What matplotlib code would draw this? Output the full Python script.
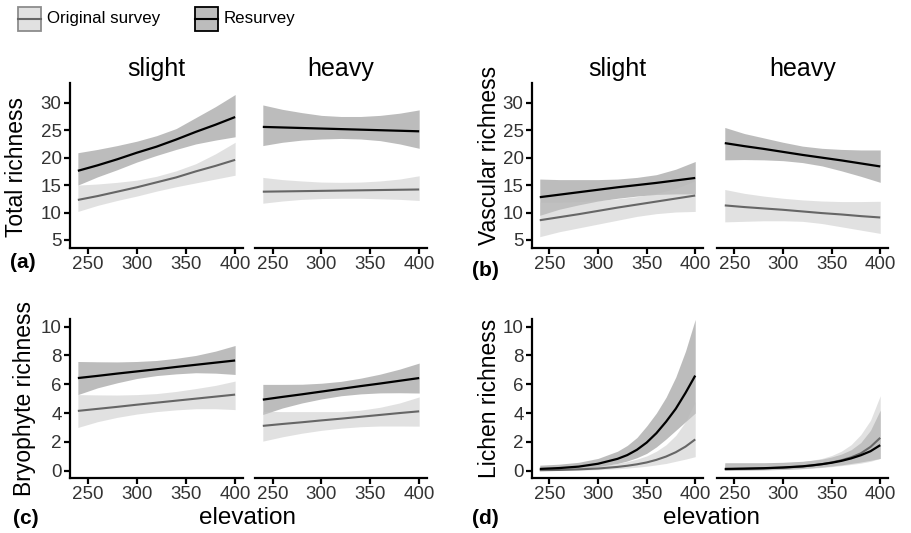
import matplotlib
matplotlib.use("Agg")
import matplotlib.pyplot as plt
from matplotlib.patches import Rectangle
from matplotlib.lines import Line2D

plt.rcParams['font.family'] = ['Liberation Sans', 'DejaVu Sans']

# ---------------- data ----------------
elev = [240, 260, 280, 300, 320, 340, 360, 380, 400]
elev_d = [240, 260, 280, 300, 320, 330, 340, 350, 360, 370, 380, 390, 400]
facets = ["slight", "heavy"]
surveys = ["Original survey", "Resurvey"]

# Total richness (a)
tot_slight_res_fit = [17.6, 18.6, 19.7, 20.9, 22.0, 23.3, 24.7, 26.0, 27.4]
tot_slight_res_lo = [15.0, 16.5, 17.8, 19.2, 20.4, 21.5, 22.5, 23.2, 23.8]
tot_slight_res_hi = [20.9, 21.5, 22.2, 23.0, 24.0, 25.3, 27.3, 29.3, 31.5]
tot_slight_org_fit = [12.3, 13.0, 13.8, 14.6, 15.5, 16.4, 17.5, 18.5, 19.6]
tot_slight_org_lo = [10.2, 11.3, 12.2, 13.0, 13.9, 14.7, 15.4, 16.1, 16.8]
tot_slight_org_hi = [15.0, 15.2, 15.5, 15.9, 16.6, 17.6, 18.9, 20.7, 22.8]
tot_heavy_res_fit = [25.6, 25.5, 25.4, 25.3, 25.2, 25.1, 25.0, 24.9, 24.8]
tot_heavy_res_lo = [22.2, 22.8, 23.2, 23.4, 23.5, 23.4, 23.1, 22.5, 21.7]
tot_heavy_res_hi = [29.6, 28.8, 28.2, 27.7, 27.5, 27.5, 27.7, 28.1, 28.7]
tot_heavy_org_fit = [13.8, 13.85, 13.9, 13.95, 14.0, 14.05, 14.1, 14.15, 14.2]
tot_heavy_org_lo = [11.7, 12.1, 12.4, 12.55, 12.6, 12.6, 12.5, 12.4, 12.2]
tot_heavy_org_hi = [16.4, 16.0, 15.75, 15.55, 15.5, 15.55, 15.75, 16.1, 16.7]

# Vascular richness (b)
vas_slight_res_fit = [12.8, 13.25, 13.7, 14.15, 14.6, 15.0, 15.4, 15.85, 16.3]
vas_slight_res_lo = [9.5, 10.6, 11.4, 12.1, 12.6, 13.0, 13.3, 13.4, 13.4]
vas_slight_res_hi = [16.1, 16.0, 16.0, 16.0, 16.1, 16.4, 16.9, 17.9, 19.3]
vas_slight_org_fit = [8.6, 9.15, 9.7, 10.3, 10.9, 11.45, 12.0, 12.55, 13.1]
vas_slight_org_lo = [5.6, 6.5, 7.2, 7.9, 8.6, 9.3, 9.8, 10.1, 10.2]
vas_slight_org_hi = [11.9, 11.9, 12.0, 12.2, 12.5, 12.9, 13.5, 14.4, 15.8]
vas_heavy_res_fit = [22.65, 22.1, 21.6, 21.05, 20.5, 20.0, 19.5, 18.95, 18.4]
vas_heavy_res_lo = [19.6, 19.65, 19.6, 19.45, 19.1, 18.5, 17.6, 16.6, 15.5]
vas_heavy_res_hi = [25.5, 24.4, 23.6, 22.8, 22.1, 21.7, 21.5, 21.4, 21.4]
vas_heavy_org_fit = [11.3, 11.0, 10.75, 10.5, 10.2, 9.9, 9.65, 9.35, 9.1]
vas_heavy_org_lo = [8.3, 8.4, 8.5, 8.5, 8.4, 8.0, 7.4, 6.8, 6.2]
vas_heavy_org_hi = [14.2, 13.5, 13.0, 12.6, 12.3, 12.1, 12.0, 12.0, 12.05]

# Bryophyte richness (c)
bry_slight_res_fit = [6.43, 6.58, 6.74, 6.89, 7.04, 7.2, 7.35, 7.5, 7.65]
bry_slight_res_lo = [5.28, 5.75, 6.1, 6.4, 6.6, 6.72, 6.8, 6.77, 6.68]
bry_slight_res_hi = [7.58, 7.56, 7.55, 7.58, 7.65, 7.8, 8.0, 8.3, 8.69]
bry_slight_org_fit = [4.15, 4.29, 4.43, 4.58, 4.72, 4.86, 5.0, 5.14, 5.28]
bry_slight_org_lo = [3.0, 3.4, 3.7, 3.93, 4.1, 4.22, 4.3, 4.3, 4.24]
bry_slight_org_hi = [5.28, 5.26, 5.25, 5.28, 5.35, 5.5, 5.7, 5.92, 6.22]
bry_heavy_res_fit = [4.93, 5.12, 5.3, 5.49, 5.68, 5.87, 6.05, 6.24, 6.43]
bry_heavy_res_lo = [3.9, 4.35, 4.7, 4.98, 5.2, 5.33, 5.4, 5.41, 5.39]
bry_heavy_res_hi = [5.99, 5.99, 6.0, 6.07, 6.2, 6.42, 6.7, 7.05, 7.47]
bry_heavy_org_fit = [3.11, 3.24, 3.36, 3.49, 3.61, 3.74, 3.87, 4.0, 4.12]
bry_heavy_org_lo = [2.05, 2.35, 2.6, 2.8, 2.95, 3.05, 3.1, 3.1, 3.09]
bry_heavy_org_hi = [4.12, 4.1, 4.1, 4.1, 4.1, 4.2, 4.4, 4.7, 5.12]

# Lichen richness (d)
lic_slight_res_fit = [0.12, 0.18, 0.28, 0.48, 0.82, 1.08, 1.45, 1.95, 2.6, 3.4, 4.3, 5.4, 6.6]
lic_slight_res_lo = [0.04, 0.07, 0.14, 0.27, 0.5, 0.67, 0.9, 1.2, 1.65, 2.2, 2.8, 3.4, 4.0]
lic_slight_res_hi = [0.38, 0.45, 0.58, 0.85, 1.35, 1.75, 2.3, 3.1, 4.0, 5.1, 6.5, 8.3, 10.5]
lic_slight_org_fit = [0.03, 0.05, 0.09, 0.15, 0.26, 0.34, 0.44, 0.57, 0.75, 0.98, 1.28, 1.67, 2.17]
lic_slight_org_lo = [0.005, 0.01, 0.03, 0.07, 0.13, 0.18, 0.24, 0.31, 0.4, 0.5, 0.65, 0.8, 0.97]
lic_slight_org_hi = [0.15, 0.18, 0.24, 0.33, 0.5, 0.63, 0.8, 1.02, 1.35, 1.8, 2.45, 3.4, 4.8]
lic_heavy_res_fit = [0.12, 0.14, 0.17, 0.22, 0.3, 0.37, 0.45, 0.55, 0.68, 0.85, 1.07, 1.35, 1.77]
lic_heavy_res_lo = [0.02, 0.04, 0.06, 0.09, 0.15, 0.2, 0.25, 0.32, 0.4, 0.5, 0.6, 0.72, 0.85]
lic_heavy_res_hi = [0.55, 0.55, 0.55, 0.58, 0.65, 0.72, 0.8, 0.95, 1.15, 1.45, 1.95, 2.8, 4.2]
lic_heavy_org_fit = [0.1, 0.13, 0.16, 0.21, 0.29, 0.36, 0.45, 0.57, 0.72, 0.92, 1.2, 1.65, 2.28]
lic_heavy_org_lo = [0.02, 0.03, 0.05, 0.08, 0.13, 0.17, 0.22, 0.28, 0.35, 0.43, 0.52, 0.65, 0.85]
lic_heavy_org_hi = [0.45, 0.46, 0.48, 0.52, 0.62, 0.72, 0.85, 1.05, 1.35, 1.8, 2.5, 3.5, 5.2]

x_ticks = [250, 300, 350, 400]
top_yticks = [5, 10, 15, 20, 25, 30]
bot_yticks = [0, 2, 4, 6, 8, 10]

# ---------------- style ----------------
W, H = 911, 533
RES_FILL, RES_ALPHA = "#7a7a7a", 0.5
ORG_FILL, ORG_ALPHA = "#c4c4c4", 0.5
RES_LINE = "#000000"
ORG_LINE = "#666666"
TICK_COL = "#333333"

fig = plt.figure(figsize=(W / 100, H / 100), dpi=100)


def px_axes(x0, y0, x1, y1):
    return fig.add_axes([x0 / W, 1 - y1 / H, (x1 - x0) / W, (y1 - y0) / H])


def style(ax, ylim, yticks, show_y):
    ax.set_xlim(232, 408)
    ax.set_ylim(*ylim)
    ax.set_xticks(x_ticks)
    ax.set_xticklabels([str(t) for t in x_ticks])
    for s in ["top", "right"]:
        ax.spines[s].set_visible(False)
    ax.spines["bottom"].set_linewidth(1.6)
    ax.spines["left"].set_linewidth(1.6)
    ax.tick_params(axis="both", length=4, width=1.6, labelsize=13.5,
                   labelcolor=TICK_COL, pad=2)
    if show_y:
        ax.set_yticks(yticks)
        ax.set_yticklabels([str(t) for t in yticks])
    else:
        ax.spines["left"].set_visible(False)
        ax.set_yticks([])
    ax.set_facecolor("none")


def draw(ax, x, res, org):
    ax.fill_between(x, res[1], res[2], color=RES_FILL, alpha=RES_ALPHA, lw=0)
    ax.fill_between(x, org[1], org[2], color=ORG_FILL, alpha=ORG_ALPHA, lw=0)
    ax.plot(x, org[0], color=ORG_LINE, lw=1.5, solid_capstyle="butt")
    ax.plot(x, res[0], color=RES_LINE, lw=1.6, solid_capstyle="butt")


panels = [
    dict(cols=[(70, 243), (255, 427)], rows=(83, 248), ylim=(3.54, 33.6), yt=top_yticks, x=elev,
         data=[((tot_slight_res_fit, tot_slight_res_lo, tot_slight_res_hi),
                (tot_slight_org_fit, tot_slight_org_lo, tot_slight_org_hi)),
               ((tot_heavy_res_fit, tot_heavy_res_lo, tot_heavy_res_hi),
                (tot_heavy_org_fit, tot_heavy_org_lo, tot_heavy_org_hi))],
         ylabel="Total richness", ylab_xy=(17, 167), tag="(a)", tag_xy=(23, 262),
         strip=True, xlabel=None),
    dict(cols=[(532, 703), (717, 888)], rows=(83, 248), ylim=(3.54, 33.6), yt=top_yticks, x=elev,
         data=[((vas_slight_res_fit, vas_slight_res_lo, vas_slight_res_hi),
                (vas_slight_org_fit, vas_slight_org_lo, vas_slight_org_hi)),
               ((vas_heavy_res_fit, vas_heavy_res_lo, vas_heavy_res_hi),
                (vas_heavy_org_fit, vas_heavy_org_lo, vas_heavy_org_hi))],
         ylabel="Vascular richness", ylab_xy=(489, 155), tag="(b)", tag_xy=(485, 271),
         strip=True, xlabel=None),
    dict(cols=[(70, 243), (255, 427)], rows=(319, 478), ylim=(-0.51, 10.53), yt=bot_yticks, x=elev,
         data=[((bry_slight_res_fit, bry_slight_res_lo, bry_slight_res_hi),
                (bry_slight_org_fit, bry_slight_org_lo, bry_slight_org_hi)),
               ((bry_heavy_res_fit, bry_heavy_res_lo, bry_heavy_res_hi),
                (bry_heavy_org_fit, bry_heavy_org_lo, bry_heavy_org_hi))],
         ylabel="Bryophyte richness", ylab_xy=(25, 398), tag="(c)", tag_xy=(26, 518),
         strip=False, xlabel=(248, 518)),
    dict(cols=[(532, 703), (717, 888)], rows=(319, 478), ylim=(-0.51, 10.53), yt=bot_yticks, x=elev_d,
         data=[((lic_slight_res_fit, lic_slight_res_lo, lic_slight_res_hi),
                (lic_slight_org_fit, lic_slight_org_lo, lic_slight_org_hi)),
               ((lic_heavy_res_fit, lic_heavy_res_lo, lic_heavy_res_hi),
                (lic_heavy_org_fit, lic_heavy_org_lo, lic_heavy_org_hi))],
         ylabel="Lichen richness", ylab_xy=(489, 398), tag="(d)", tag_xy=(485, 518),
         strip=False, xlabel=(711, 518)),
]

for p in panels:
    for i, (c0, c1) in enumerate(p["cols"]):
        ax = px_axes(c0, p["rows"][0], c1, p["rows"][1])
        style(ax, p["ylim"], p["yt"], show_y=(i == 0))
        res, org = p["data"][i]
        draw(ax, p["x"], res, org)
        if p["strip"]:
            ax.text(0.5, 1.04, facets[i], transform=ax.transAxes, ha="center",
                    va="baseline", fontsize=18, color="black")
    fig.text(p["ylab_xy"][0] / W, 1 - p["ylab_xy"][1] / H, p["ylabel"], rotation=90,
             ha="center", va="center", fontsize=16.5)
    fig.text(p["tag_xy"][0] / W, 1 - p["tag_xy"][1] / H, p["tag"], ha="center",
             va="center", fontsize=15, fontweight="bold")
    if p["xlabel"]:
        fig.text(p["xlabel"][0] / W, 1 - p["xlabel"][1] / H, "elevation", ha="center",
                 va="center", fontsize=17.5)

# ---------------- legend ----------------
def key(x0, fill, alpha, edge, line):
    fig.patches.append(Rectangle((x0 / W, 1 - 31 / H), 23 / W, 24 / H, transform=fig.transFigure,
                                 facecolor="white", edgecolor="none"))
    fig.patches.append(Rectangle((x0 / W, 1 - 31 / H), 23 / W, 24 / H, transform=fig.transFigure,
                                 facecolor=fill, alpha=alpha, edgecolor="none"))
    fig.patches.append(Rectangle((x0 / W, 1 - 31 / H), 23 / W, 24 / H, transform=fig.transFigure,
                                 facecolor="none", edgecolor=edge, lw=1.3))
    fig.lines.append(Line2D([x0 / W, (x0 + 23) / W], [1 - 19 / H, 1 - 19 / H],
                            transform=fig.transFigure, color=line, lw=1.5))

key(18, ORG_FILL, ORG_ALPHA, "#8c8c8c", ORG_LINE)
fig.text(47 / W, 1 - 19 / H, surveys[0], ha="left", va="center", fontsize=12.2)
key(195, RES_FILL, RES_ALPHA, "#000000", RES_LINE)
fig.text(224 / W, 1 - 19 / H, surveys[1], ha="left", va="center", fontsize=12.2)

fig.savefig("out.png", dpi=100)
